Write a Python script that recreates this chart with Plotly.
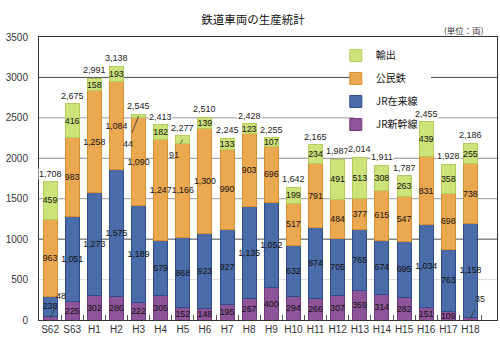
import plotly.graph_objects as go

# 年度（昭和62年度〜平成18年度）
categories = ["S62", "S63", "H1", "H2", "H3", "H4", "H5", "H6", "H7", "H8",
              "H9", "H10", "H11", "H12", "H13", "H14", "H15", "H16", "H17", "H18"]

# 生産両数（両）
jr_shinkansen = [48, 225, 302, 286, 222, 305, 152, 148, 195, 267,
                 400, 294, 266, 307, 359, 314, 282, 151, 109, 35]
jr_zairai = [238, 1051, 1273, 1575, 1189, 679, 868, 923, 927, 1135,
             1052, 632, 874, 705, 765, 674, 695, 1034, 763, 1158]
koumintetsu = [963, 983, 1258, 1084, 1090, 1247, 1166, 1300, 990, 903,
               696, 517, 791, 484, 377, 615, 547, 831, 698, 738]
yushutsu = [459, 416, 158, 193, 44, 182, 91, 139, 133, 123,
            107, 199, 234, 491, 513, 308, 263, 439, 358, 255]

y_ticks = [0, 500, 1000, 1500, 2000, 2500, 3000, 3500]

# name, values, fill, outline, legend rank
series = [
    ("JR新幹線", jr_shinkansen, "#8d5499", "#6e3a7c", 4),
    ("JR在来線", jr_zairai, "#4a6ca8", "#2c4d8a", 3),
    ("公民鉄", koumintetsu, "#eaa851", "#d98f2f", 2),
    ("輸出", yushutsu, "#cce37a", "#b4cc5c", 1),
]

NUM_FONT = "Liberation Sans, Arial, sans-serif"
JP_FONT = "Noto Sans CJK JP, sans-serif"

fig = go.Figure()
for name, vals, color, edge, rank in series:
    fig.add_trace(go.Bar(
        x=categories, y=vals, name=name,
        marker=dict(color=color, line=dict(color=edge, width=1)),
        width=0.63,
        text=[f"{v:,}" if v >= 100 else "" for v in vals],
        textposition="inside", insidetextanchor="middle", textangle=0,
        textfont=dict(family=NUM_FONT, size=8.8, color="#111"),
        legendgroup=name, legendrank=rank,
        hoverinfo="skip",
    ))

totals = [sum(v) for v in zip(jr_shinkansen, jr_zairai, koumintetsu, yushutsu)]

annotations = []
for cat, tot in zip(categories, totals):
    annotations.append(dict(
        x=cat, y=tot, text=f"{tot:,}", showarrow=False,
        yanchor="bottom", yshift=2, bgcolor="white", borderpad=0,
        font=dict(family=NUM_FONT, size=9, color="#222"),
    ))

# small segments get their value written beside the bar with a leader line
callouts = [
    (0, "shinkansen", 11, -22),
    (19, "shinkansen", 10, -20),
    (4, "yushutsu", -11, 28),
    (6, "yushutsu", -9, 15),
]
for idx, which, ax, ay in callouts:
    if which == "shinkansen":
        val, base = jr_shinkansen[idx], 0
    else:
        val = yushutsu[idx]
        base = jr_shinkansen[idx] + jr_zairai[idx] + koumintetsu[idx]
    annotations.append(dict(
        x=categories[idx], y=base + val / 2, text=str(val),
        showarrow=True, arrowhead=0, arrowwidth=0.8, arrowcolor="#333",
        ax=ax, ay=ay, standoff=0, startstandoff=5,
        font=dict(family=NUM_FONT, size=9, color="#222"),
    ))

annotations.append(dict(
    x=0.976, y=1.025, xref="paper", yref="paper", text="(単位：両)",
    showarrow=False, xanchor="right", yanchor="middle",
    font=dict(family=JP_FONT, size=8.5, color="#333"),
))

grid_colors = {500: "#dcdcdc", 1000: "#4a4a4a", 1500: "#9a9a9a",
               2000: "#8a8a8a", 2500: "#9a9a9a", 3000: "#4a4a4a"}
shapes = [dict(type="line", xref="paper", x0=0, x1=1, y0=v, y1=v,
               line=dict(color=c, width=1), layer="below")
          for v, c in grid_colors.items()]
# blank band so the grid lines stop around the legend entries
shapes.append(dict(type="rect", xref="paper", yref="paper",
                   x0=0.688, x1=0.856, y0=0.66, y1=0.985,
                   fillcolor="white", line=dict(width=0), layer="below"))

fig.update_layout(
    width=500, height=348,
    margin=dict(l=39, r=3, t=37, b=28),
    paper_bgcolor="white", plot_bgcolor="white",
    barmode="stack", bargap=0.37,
    title=dict(text="鉄道車両の生産統計", x=0.506, xanchor="center",
               y=0.943, yanchor="middle",
               font=dict(family=JP_FONT, size=11.5, color="#111")),
    uniformtext=dict(minsize=8.8, mode="show"),
    legend=dict(x=0.648, y=0.986, xanchor="left", yanchor="top",
                traceorder="grouped", tracegroupgap=4,
                bgcolor="rgba(0,0,0,0)", itemwidth=30,
                font=dict(family=JP_FONT, size=10, color="#111")),
    xaxis=dict(type="category", range=[-0.5, 20.2], tickangle=0,
               showline=True, mirror=True, linecolor="#333", linewidth=1,
               ticks="inside", tickson="boundaries", ticklen=5,
               tickcolor="#555",
               tickfont=dict(family=NUM_FONT, size=10, color="#333"),
               showgrid=False),
    yaxis=dict(range=[0, 3500], tickvals=y_ticks, tickformat="d",
               showline=True, mirror=True, linecolor="#333", linewidth=1,
               showgrid=False, zeroline=False, ticks="",
               ticklabelstandoff=8,
               tickfont=dict(family=NUM_FONT, size=10, color="#333")),
    shapes=shapes,
    annotations=annotations,
    showlegend=True,
)

fig.write_html("out.html")
